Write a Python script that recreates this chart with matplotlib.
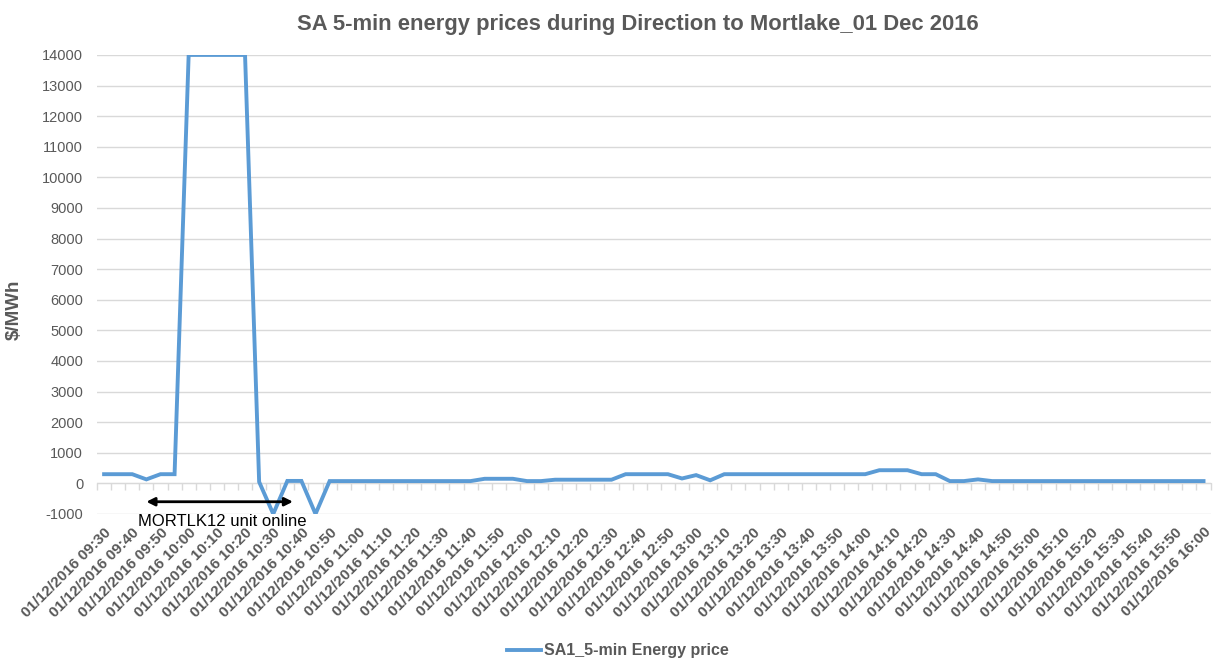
import matplotlib.pyplot as plt
import numpy as np

# 5-min prices, 01 Dec 2016 09:30 -> 16:00
times = ["%02d:%02d" % divmod(m, 60) for m in range(9 * 60 + 30, 16 * 60 + 1, 5)]
prices = [300, 300, 300, 130, 300, 300,
          14000, 14000, 14000, 14000, 14000,
          50, -1000, 80, 80, -1000,
          75, 75, 75, 75, 75, 75, 75, 75, 75, 75, 75,
          150, 150, 150, 75, 75,
          120, 120, 120, 120, 120,
          300, 300, 300, 300, 160, 270, 100,
          300, 300, 300, 300, 300, 300, 300, 300, 300, 300, 300,
          430, 430, 430, 300, 300, 75, 75, 130,
          75, 75, 75, 75, 75, 75, 75, 75, 75, 75, 75, 75, 75, 75, 75, 75]
tick_labels = ["01/12/2016 " + t for t in times[::2]]
yticks = list(range(-1000, 14001, 1000))

plt.rcParams['font.family'] = ['Liberation Sans', 'DejaVu Sans']
plt.rcParams['axes.unicode_minus'] = False
grey = "#595959"

fig = plt.figure(figsize=(12.13, 6.62), dpi=100)
ax = fig.add_axes([0.080, 0.2236, 0.918, 0.6934])

x = np.arange(len(prices))
ax.plot(x, prices, color="#5B9BD5", lw=2.8, label="SA1_5-min Energy price",
        solid_joinstyle="miter")

ax.set_xlim(-0.5, len(prices) - 0.5)
ax.set_ylim(-1000, 14000)
ax.set_yticks(yticks)
ax.tick_params(axis='y', length=0, labelsize=10.5, labelcolor=grey, pad=10)
ax.grid(axis='y', color="#d9d9d9", lw=1)
ax.set_axisbelow(True)
for s in ax.spines.values():
    s.set_visible(False)

ax.set_xticks(x[::2])
ax.set_xticklabels(tick_labels, rotation=45, ha='right', rotation_mode='anchor',
                   fontsize=11, fontweight='bold', color=grey)
ax.tick_params(axis='x', length=0, pad=8)

# category axis drawn at y=0 with boundary tick marks
sec = ax.secondary_xaxis(1000 / 15000)
sec.set_xticks(np.arange(len(prices) + 1) - 0.5)
sec.set_xticklabels([])
sec.tick_params(axis='x', length=5, color="#d9d9d9", width=1)
sec.spines['bottom'].set_color("#d9d9d9")

ax.set_ylabel("$/MWh", fontsize=13.5, fontweight='bold', color=grey)
ax.yaxis.set_label_coords(-0.067, 0.444)
ax.set_title("SA 5-min energy prices during Direction to Mortlake_01 Dec 2016",
             fontsize=15.8, fontweight='bold', color=grey, pad=18, x=0.486)

ax.annotate("", xy=(3.0, -600), xytext=(13.4, -600),
            arrowprops=dict(arrowstyle="<|-|>", color="black", lw=2,
                            mutation_scale=12, shrinkA=0, shrinkB=0))
ax.text(8.4, -1250, "MORTLK12 unit online", ha='center', va='center',
        fontsize=12, color="black")

ax.legend(loc='center', bbox_to_anchor=(0.468, -0.298), frameon=False,
          handlelength=2.1, handletextpad=0.2,
          prop={'size': 11.5, 'weight': 'bold'}, labelcolor=grey)

fig.savefig("out.png", dpi=100)
